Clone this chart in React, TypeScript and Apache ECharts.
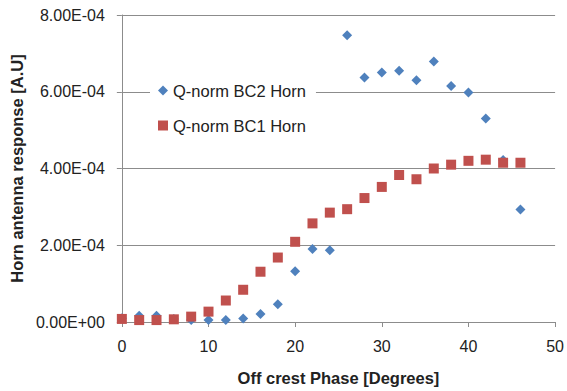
import React, { useEffect, useRef } from "react";
import * as echarts from "echarts";

const phases = [0, 2, 4, 6, 8, 10, 12, 14, 16, 18, 20, 22, 24, 26, 28, 30, 32, 34, 36, 38, 40, 42, 44, 46];
const bc2Horn = [
  1.0e-5, 1.6e-5, 1.6e-5, 8e-6, 5e-6, 5e-6, 5e-6, 9e-6, 2.1e-5, 4.6e-5, 1.32e-4, 1.9e-4,
  1.87e-4, 7.47e-4, 6.37e-4, 6.5e-4, 6.55e-4, 6.3e-4, 6.79e-4, 6.15e-4, 5.98e-4, 5.3e-4, 4.22e-4, 2.93e-4,
];
const bc1Horn = [
  8e-6, 5e-6, 5e-6, 7e-6, 1.4e-5, 2.7e-5, 5.6e-5, 8.4e-5, 1.31e-4, 1.68e-4, 2.09e-4, 2.57e-4,
  2.85e-4, 2.94e-4, 3.23e-4, 3.52e-4, 3.83e-4, 3.72e-4, 4.0e-4, 4.1e-4, 4.2e-4, 4.23e-4, 4.15e-4, 4.15e-4,
];
const seriesNames = ["Q-norm BC2 Horn", "Q-norm BC1 Horn"];
const xTitle = "Off crest Phase [Degrees]";
const yTitle = "Horn antenna response [A.U]";

const FONT = "'Liberation Sans', Arial, sans-serif";
const GRID = "#8c8c8c";
const TXT = "#222";

function fmtSci(v: number): string {
  const [m, e] = v.toExponential(2).split("e");
  const sign = e[0];
  const digits = e.slice(1).padStart(2, "0");
  return m + "E" + sign + digits;
}

export default function App() {
  const ref = useRef<HTMLDivElement>(null);
  useEffect(() => {
    if (!ref.current) return;
    const chart = echarts.init(ref.current, undefined, { renderer: "svg" });
    chart.setOption({
      animation: false,
      backgroundColor: "#fff",
      textStyle: { fontFamily: FONT },
      grid: { left: 118, right: 10, top: 15, bottom: 66, containLabel: false },
      legend: {
        orient: "vertical",
        left: 150,
        top: 72,
        padding: [10, 10, 10, 8],
        itemWidth: 10,
        itemHeight: 10,
        itemGap: 18,
        backgroundColor: "#fff",
        textStyle: { fontFamily: FONT, fontSize: 16.5, color: TXT },
        data: [
          { name: seriesNames[0], icon: "diamond" },
          { name: seriesNames[1], icon: "rect" },
        ],
      },
      xAxis: {
        type: "value",
        min: 0,
        max: 50,
        interval: 10,
        name: xTitle,
        nameLocation: "middle",
        nameGap: 47,
        nameTextStyle: { fontFamily: FONT, fontSize: 16.5, fontWeight: "bold", color: TXT },
        axisLine: { show: true, onZero: false, lineStyle: { color: GRID, width: 1 } },
        axisTick: { show: true, inside: false, length: 5, lineStyle: { color: GRID } },
        axisLabel: { fontFamily: FONT, fontSize: 16, color: TXT, margin: 16 },
        splitLine: { show: false },
      },
      yAxis: {
        type: "value",
        min: 0,
        max: 8e-4,
        interval: 2e-4,
        name: yTitle,
        nameLocation: "middle",
        nameGap: 83,
        nameRotate: 90,
        nameTextStyle: { fontFamily: FONT, fontSize: 16.5, fontWeight: "bold", color: TXT },
        axisLine: { show: true, lineStyle: { color: GRID, width: 1 } },
        axisTick: { show: true, inside: false, length: 5, lineStyle: { color: GRID } },
        axisLabel: { fontFamily: FONT, fontSize: 16, color: TXT, margin: 17, formatter: (v: number) => fmtSci(v) },
        splitLine: { show: true, lineStyle: { color: GRID, width: 1 } },
      },
      series: [
        {
          name: seriesNames[0],
          type: "scatter",
          symbol: "diamond",
          symbolSize: 10,
          itemStyle: { color: "#4F81BD", opacity: 1 },
          data: phases.map((x, i) => [x, bc2Horn[i]]),
          z: 2,
        },
        {
          name: seriesNames[1],
          type: "scatter",
          symbol: "rect",
          symbolSize: 10,
          itemStyle: { color: "#C0504D", opacity: 1 },
          data: phases.map((x, i) => [x, bc1Horn[i]]),
          z: 3,
        },
      ],
    });
    return () => chart.dispose();
  }, []);
  return <div ref={ref} style={{ width: 567, height: 391, position: "absolute", left: 0, top: 0 }} />;
}
